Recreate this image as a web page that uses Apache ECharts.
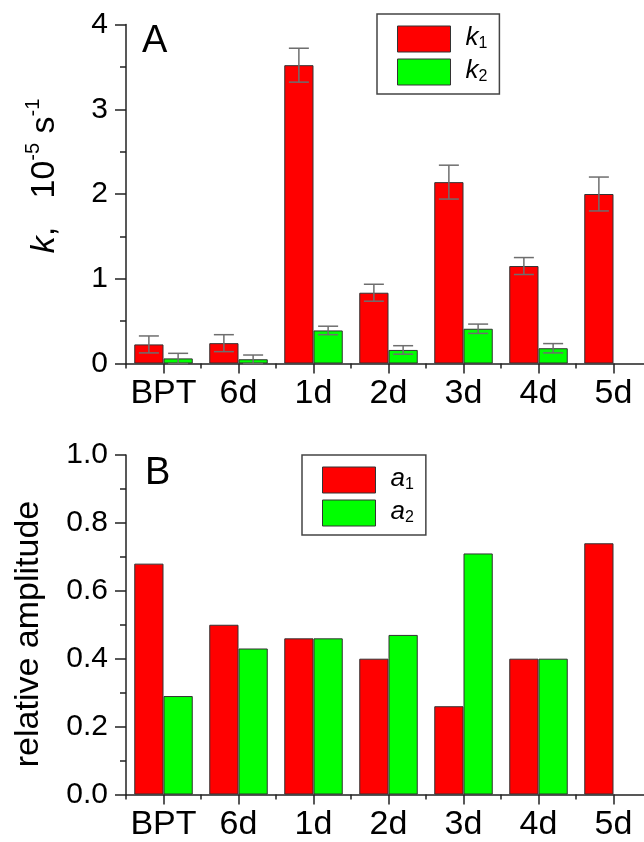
<!DOCTYPE html>
<html>
<head>
<meta charset="utf-8">
<script src="https://cdn.jsdelivr.net/npm/echarts@6/dist/echarts.min.js"></script>
<style>
html,body{margin:0;padding:0;background:#fff;}
#chart{width:644px;height:842px;}
</style>
</head>
<body>
<div id="chart"></div>
<script>
// ---- data ----
const categories = ['BPT', '6d', '1d', '2d', '3d', '4d', '5d'];
const k1 = [0.225, 0.24, 3.52, 0.835, 2.14, 1.15, 2.0];
const k1Err = [0.10, 0.10, 0.20, 0.10, 0.20, 0.10, 0.20];
const k2 = [0.06, 0.05, 0.39, 0.16, 0.41, 0.18, null];
const k2Err = [0.06, 0.05, 0.05, 0.05, 0.055, 0.055, null];
const a1 = [0.68, 0.50, 0.46, 0.40, 0.26, 0.40, 0.74];
const a2 = [0.29, 0.43, 0.46, 0.47, 0.71, 0.40, null];
const kTicks = [0, 1, 2, 3, 4];
const aTicks = [0.0, 0.2, 0.4, 0.6, 0.8, 1.0];

const FONT = '"Liberation Sans", Arial, Helvetica, sans-serif';
const RED = '#ff0000', GREEN = '#00ff00';
const AXIS = '#222';
const GAP = 0.22;

const chart = echarts.init(document.getElementById('chart'), null, {renderer: 'canvas'});

function errRender(side) {
  return function (params, api) {
    const i = api.value(0), v = api.value(1), e = api.value(2);
    const band = api.size([1, 0])[0];
    const bw = band * (1 - GAP) / 2;
    const base = api.coord([i, v]);
    const x = base[0] + side * bw / 2;
    const top = api.coord([i, v + e])[1];
    const bot = api.coord([i, Math.max(0, v - e)])[1];
    const hw = 10;
    const st = {stroke: '#6e6e6e', lineWidth: 1.5};
    return {type: 'group', children: [
      {type: 'line', shape: {x1: x, y1: top, x2: x, y2: bot}, style: st},
      {type: 'line', shape: {x1: x - hw, y1: top, x2: x + hw, y2: top}, style: st},
      {type: 'line', shape: {x1: x - hw, y1: bot, x2: x + hw, y2: bot}, style: st}
    ]};
  };
}

function catAxes(gridIndex) {
  return [
    {
      type: 'category', gridIndex: gridIndex, data: categories, position: 'bottom',
      axisLine: {show: true, onZero: false, lineStyle: {color: AXIS, width: 1.5}},
      axisTick: {show: true, alignWithLabel: true, length: 10, lineStyle: {color: AXIS, width: 1.5}},
      axisLabel: {interval: 0, margin: 13, color: '#000', fontSize: 34, fontFamily: FONT},
      splitLine: {show: false}
    },
    {
      type: 'category', gridIndex: gridIndex, data: categories, position: 'bottom',
      axisLine: {show: false},
      axisTick: {show: true, alignWithLabel: false, interval: 0, length: 5, lineStyle: {color: AXIS, width: 1.5}},
      axisLabel: {show: false},
      splitLine: {show: false}
    }
  ];
}

function valAxis(gridIndex, ticks, digits) {
  return {
    type: 'value', gridIndex: gridIndex,
    min: ticks[0], max: ticks[ticks.length - 1], interval: ticks[1] - ticks[0],
    axisLine: {show: true, lineStyle: {color: AXIS, width: 1.5}},
    axisTick: {show: true, inside: false, length: 11, lineStyle: {color: AXIS, width: 1.5}},
    minorTick: {show: true, splitNumber: 2, length: 6, lineStyle: {color: AXIS, width: 1.5}},
    axisLabel: {margin: 18, color: '#000', fontSize: 30, fontFamily: FONT,
      formatter: function (v) { return v.toFixed(digits); }},
    splitLine: {show: false}
  };
}

const legendRich = {
  i: {fontSize: 26, fontStyle: 'italic', fontFamily: FONT, color: '#000', lineHeight: 26, padding: [6, 0, 8, 10]},
  s: {fontSize: 16, fontFamily: FONT, color: '#000', lineHeight: 16, verticalAlign: 'bottom'}
};
function legendFmt(name) { return '{i|' + name.charAt(0) + '}{s|' + name.slice(1) + '}'; }

function legendCfg(left, top, names) {
  return {
    left: left, top: top, orient: 'vertical', data: names,
    selectedMode: false, icon: 'rect', itemWidth: 53, itemHeight: 26, itemGap: -7,
    padding: [5, 12, 2, 20], borderColor: '#444', borderWidth: 1.5, backgroundColor: '#fff',
    itemStyle: {borderColor: '#333', borderWidth: 1},
    formatter: legendFmt,
    textStyle: {rich: legendRich}
  };
}

const barStyle = function (c) { return {color: c, borderColor: '#333', borderWidth: 1}; };

const option = {
  animation: false,
  backgroundColor: '#fff',
  textStyle: {fontFamily: FONT},
  grid: [
    {left: 126, top: 24.5, width: 525, height: 339, outerBoundsMode: 'none'},
    {left: 126, top: 455, width: 525, height: 339.5, outerBoundsMode: 'none'}
  ],
  xAxis: catAxes(0).concat(catAxes(1)),
  yAxis: [valAxis(0, kTicks, 0), valAxis(1, aTicks, 1)],
  legend: [legendCfg(377, 14, ['k1', 'k2']), legendCfg(302, 455, ['a1', 'a2'])],
  graphic: [
    {type: 'text', left: 142, top: 23, style: {text: 'A', fontSize: 38, fontFamily: FONT, fill: '#000'}},
    {type: 'text', left: 145, top: 455, style: {text: 'B', fontSize: 38, fontFamily: FONT, fill: '#000'}},
    {type: 'text', x: 40, y: 176, rotation: Math.PI / 2,
      style: {
        text: '{k|k}{n|,   10}{sup|-5}{n| s}{sup|-1}',
        align: 'center', verticalAlign: 'middle', fill: '#000',
        rich: {
          k: {fontSize: 34, fontStyle: 'italic', fontFamily: FONT, fill: '#000', lineHeight: 34, padding: [10, 0, 0, 0]},
          n: {fontSize: 34, fontFamily: FONT, fill: '#000', lineHeight: 34, padding: [10, 0, 0, 0]},
          sup: {fontSize: 20, fontFamily: FONT, fill: '#000', lineHeight: 20, verticalAlign: 'top'}
        }
      }},
    {type: 'text', x: 29, y: 634, rotation: Math.PI / 2,
      style: {text: 'relative amplitude', fontSize: 34, fontFamily: FONT, fill: '#000',
        align: 'center', verticalAlign: 'middle'}}
  ],
  series: [
    {name: 'k1', type: 'bar', xAxisIndex: 0, yAxisIndex: 0, data: k1, barGap: '0%', barCategoryGap: (GAP * 100) + '%', itemStyle: barStyle(RED)},
    {name: 'k2', type: 'bar', xAxisIndex: 0, yAxisIndex: 0, data: k2, barGap: '0%', barCategoryGap: (GAP * 100) + '%', itemStyle: barStyle(GREEN)},
    {name: 'k1err', type: 'custom', xAxisIndex: 0, yAxisIndex: 0, renderItem: errRender(-1), z: 5,
      encode: {x: 0, y: 1}, data: k1.map(function (v, i) { return [i, v, k1Err[i]]; })},
    {name: 'k2err', type: 'custom', xAxisIndex: 0, yAxisIndex: 0, renderItem: errRender(1), z: 5,
      encode: {x: 0, y: 1}, data: k2.map(function (v, i) { return [i, v, k2Err[i]]; }).filter(function (d) { return d[1] !== null; })},
    {name: 'a1', type: 'bar', xAxisIndex: 2, yAxisIndex: 1, data: a1, barGap: '0%', barCategoryGap: (GAP * 100) + '%', itemStyle: barStyle(RED)},
    {name: 'a2', type: 'bar', xAxisIndex: 2, yAxisIndex: 1, data: a2, barGap: '0%', barCategoryGap: (GAP * 100) + '%', itemStyle: barStyle(GREEN)}
  ]
};
chart.setOption(option);
</script>
</body>
</html>
